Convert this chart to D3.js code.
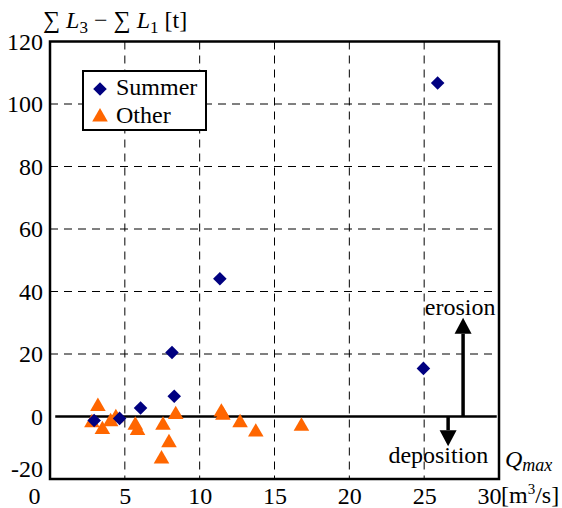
<!DOCTYPE html>
<html><head><meta charset="utf-8">
<script src="https://cdn.jsdelivr.net/npm/d3@7"></script>
<style>
body{margin:0;background:#fff;}
</style></head>
<body><svg id="chart" width="562" height="508" font-family="'Liberation Serif', 'Times New Roman', 'DejaVu Serif', serif"></svg>
<script>
// ---- data ----
const summerX = [25.9, 11.35, 8.15, 24.95, 8.3, 6.05, 4.65, 2.95];
const summerY = [106.7, 44.1, 20.5, 15.4, 6.5, 2.7, -0.6, -1.3];
const otherX = [3.2, 2.8, 3.5, 4.05, 4.4, 5.7, 5.85, 7.55, 8.4, 7.95, 7.45, 11.45, 11.55, 12.7, 13.75, 16.8];
const otherY = [3.2, -2.0, -4.2, -1.7, -0.4, -2.8, -4.5, -2.8, 0.6, -8.4, -13.6, 1.4, 0.4, -2.0, -5.0, -3.1];
const xTicks = [0, 5, 10, 15, 20, 25, 30];
const yTicks = [-20, 0, 20, 40, 60, 80, 100, 120];
const legendLabels = ["Summer", "Other"];
const arrowX = [27.6, 26.6];
const arrowFrom = [0, 0];
const arrowTo = [31.6, -9.5];
const annotText = ["erosion", "deposition"];
const annotX = [27.4, 25.95];
const annotY = [32.5, -14.8];

const FONT = "'Liberation Serif', 'Times New Roman', 'DejaVu Serif', serif";
const svg = d3.select("#chart");
const x = d3.scaleLinear().domain([0, 30]).range([50, 499]);
const y = d3.scaleLinear().domain([-20, 120]).range([479, 41.5]);
const FS = 24;

// gridlines
const g = svg.append("g");
g.selectAll("line.vg").data(xTicks.filter(d => d > 0 && d < 30)).join("line")
  .attr("x1", d => x(d)).attr("x2", d => x(d))
  .attr("y1", y(120)).attr("y2", y(-20))
  .attr("stroke", "#000").attr("stroke-width", 1).attr("stroke-dasharray", "8,6");
g.selectAll("line.hg").data(yTicks.filter(d => d > 0 && d < 120)).join("line")
  .attr("x1", x(0)).attr("x2", x(30))
  .attr("y1", d => y(d)).attr("y2", d => y(d))
  .attr("stroke", "#000").attr("stroke-width", 1).attr("stroke-dasharray", "8,6");

// zero line
svg.append("line").attr("x1", x(0.35)).attr("x2", x(29.85))
  .attr("y1", y(0)).attr("y2", y(0)).attr("stroke", "#000").attr("stroke-width", 2.5);

// axes labels via d3 axes
const xAxis = svg.append("g").attr("transform", `translate(0,${y(-20)})`)
  .call(d3.axisBottom(x).tickValues(xTicks).tickSize(0).tickPadding(8).tickFormat(d3.format("d")));
xAxis.attr("font-family", FONT).attr("font-size", FS);
xAxis.select(".domain").remove();
xAxis.selectAll("text").attr("fill", "#000")
  .attr("dx", d => d === 0 ? -16 : d === 30 ? -10 : 0);

const yAxis = svg.append("g").attr("transform", `translate(${x(0)},0)`)
  .call(d3.axisLeft(y).tickValues(yTicks).tickSize(0).tickPadding(7)
    .tickFormat(d => d < 0 ? "-" + Math.abs(d) : String(d)));
yAxis.attr("font-family", FONT).attr("font-size", FS);
yAxis.select(".domain").remove();
yAxis.selectAll("text").attr("fill", "#000")
  .attr("dy", d => d === -20 ? "-0.12em" : "0.32em");

// frame
svg.append("rect").attr("x", x(0)).attr("y", y(120))
  .attr("width", x(30) - x(0)).attr("height", y(-20) - y(120))
  .attr("fill", "none").attr("stroke", "#000").attr("stroke-width", 2.5);

// markers
const diamond = d3.symbol().type(d3.symbolSquare).size(92);
const tri = d3.symbol().type(d3.symbolTriangle).size(105);
const summer = summerX.map((v, i) => ({x: v, y: summerY[i]}));
const other = otherX.map((v, i) => ({x: v, y: otherY[i]}));
svg.append("g").selectAll("path").data(other).join("path")
  .attr("d", tri).attr("fill", "#ff6600")
  .attr("transform", d => `translate(${x(d.x)},${y(d.y)})`);
svg.append("g").selectAll("path").data(summer).join("path")
  .attr("d", diamond).attr("fill", "#000080")
  .attr("transform", d => `translate(${x(d.x)},${y(d.y)}) rotate(45)`);

// arrows
const arrows = arrowX.map((v, i) => ({x: v, y0: arrowFrom[i], y1: arrowTo[i]}));
const ag = svg.append("g");
arrows.forEach(a => {
  const dir = a.y1 > a.y0 ? 1 : -1;
  const tipY = y(a.y1);
  const baseY = tipY + dir * 16;
  ag.append("line").attr("x1", x(a.x)).attr("x2", x(a.x))
    .attr("y1", y(a.y0)).attr("y2", baseY).attr("stroke", "#000").attr("stroke-width", 3.5);
  ag.append("path").attr("d", `M${x(a.x)},${tipY}L${x(a.x) - 8.5},${baseY}L${x(a.x) + 8.5},${baseY}Z`)
    .attr("fill", "#000");
});
svg.append("g").attr("font-family", FONT).selectAll("text").data(annotText).join("text")
  .attr("x", (d, i) => x(annotX[i])).attr("y", (d, i) => y(annotY[i]))
  .attr("text-anchor", "middle").attr("font-size", FS).text(d => d);

// legend
const lg = svg.append("g").attr("font-family", FONT);
lg.append("rect").attr("x", 83).attr("y", 71).attr("width", 123).attr("height", 59)
  .attr("fill", "#fff").attr("stroke", "#000").attr("stroke-width", 2);
lg.append("path").attr("d", diamond).attr("fill", "#000080")
  .attr("transform", "translate(100,89) rotate(45)");
lg.append("path").attr("d", tri).attr("fill", "#ff6600")
  .attr("transform", "translate(100,117)");
lg.selectAll("text").data(legendLabels).join("text")
  .attr("x", 116).attr("y", (d, i) => 95 + i * 28).attr("font-size", FS).text(d => d);

// y axis title
const yt = svg.append("text").attr("x", 43).attr("y", 28).attr("font-size", FS).attr("font-family", FONT);
yt.append("tspan").text("∑ ");
yt.append("tspan").attr("font-style", "italic").text("L");
yt.append("tspan").attr("font-size", 17).attr("dy", 5).text("3");
yt.append("tspan").attr("dy", -5).text(" − ∑ ");
yt.append("tspan").attr("font-style", "italic").text("L");
yt.append("tspan").attr("font-size", 17).attr("dy", 5).text("1");
yt.append("tspan").attr("dy", -5).text(" [t]");

// x axis title
const xt = svg.append("text").attr("x", 505).attr("y", 467).attr("font-size", FS)
  .attr("font-style", "italic").attr("font-family", FONT);
xt.append("tspan").text("Q");
xt.append("tspan").attr("font-size", 18).attr("dy", 4).text("max");
const xu = svg.append("text").attr("x", 501).attr("y", 503).attr("font-size", FS).attr("font-family", FONT);
xu.append("tspan").text("[m");
xu.append("tspan").attr("font-size", 15).attr("dy", -9).text("3");
xu.append("tspan").attr("dy", 9).text("/s]");
</script></body></html>
